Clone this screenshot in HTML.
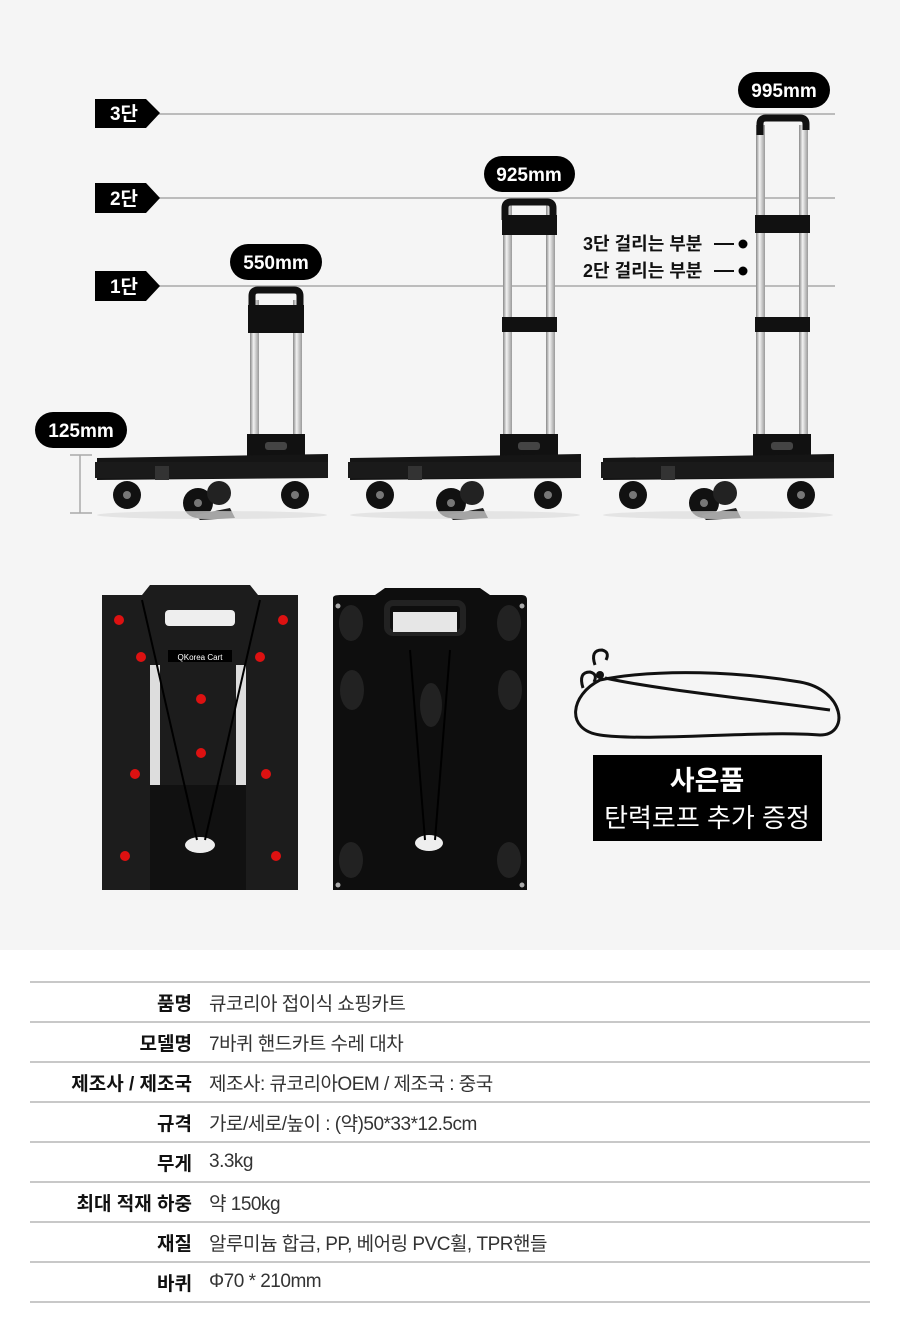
<!DOCTYPE html>
<html><head><meta charset="utf-8"><style>
body{margin:0;width:900px;height:1341px;background:#fff;font-family:"Liberation Sans","Noto Sans CJK KR",sans-serif;overflow:hidden}
.top{position:absolute;left:0;top:0;width:900px;height:950px;background:#f5f5f5}
svg text{font-family:"Liberation Sans","Noto Sans CJK KR",sans-serif}
.tbl{position:absolute;left:30px;top:981px;width:840px}
.row{height:38px;border-top:2px solid #c8c8c8;display:flex;align-items:center;font-size:19px;color:#333}
.row:last-child{border-bottom:2px solid #c8c8c8}
.k{width:162px;text-align:right;font-weight:bold;color:#111;padding-right:17px}
.v{letter-spacing:-0.5px}
</style></head><body>
<div class="top"></div>
<svg width="900" height="950" style="position:absolute;left:0;top:0">
<defs>
<linearGradient id="tube" x1="0" x2="1"><stop offset="0" stop-color="#888"/><stop offset=".4" stop-color="#f2f2f2"/><stop offset="1" stop-color="#999"/></linearGradient>
<g id="base">
<rect x="152" y="434" width="58" height="26" fill="#111"/>
<rect x="170" y="442" width="22" height="8" rx="3" fill="#444"/>
<path d="M2 458 L233 454 L233 478 L2 480 Z" fill="#151515"/>
<rect x="0" y="462" width="233" height="16" fill="#1a1a1a"/>
<rect x="60" y="466" width="14" height="14" fill="#333"/>
<circle cx="32" cy="495" r="14" fill="#111"/><circle cx="32" cy="495" r="4" fill="#777"/>
<circle cx="103" cy="503" r="15" fill="#111"/><circle cx="103" cy="503" r="4" fill="#777"/>
<circle cx="124" cy="493" r="12" fill="#222"/>
<path d="M100 515 L135 508 L140 518 L105 520Z" fill="#222"/>
<circle cx="200" cy="495" r="14" fill="#111"/><circle cx="200" cy="495" r="4" fill="#777"/>
<ellipse cx="117" cy="515" rx="115" ry="4" fill="#ddd" opacity=".7"/>
</g>
</defs>
<!-- lines -->
<g stroke="#aaa" stroke-width="1.5">
<line x1="155" y1="114" x2="835" y2="114"/>
<line x1="155" y1="198" x2="835" y2="198"/>
<line x1="155" y1="286" x2="835" y2="286"/>
</g>
<g fill="#000">
<path d="M95 99 H146 L160 113 L146 128 H95Z"/>
<path d="M95 183 H146 L160 198 L146 213 H95Z"/>
<path d="M95 271 H146 L160 286 L146 301 H95Z"/>
</g>
<g fill="#fff" font-weight="bold" font-size="19" text-anchor="middle">
<text x="124" y="120">3단</text><text x="124" y="205">2단</text><text x="124" y="293">1단</text>
</g>
<!-- pills -->
<rect x="230" y="244" width="92" height="36" rx="18"/>
<rect x="484" y="156" width="91" height="36" rx="18"/>
<rect x="738" y="72" width="92" height="36" rx="18"/>
<rect x="35" y="412" width="92" height="36" rx="18"/>
<g fill="#fff" font-weight="bold" font-size="19" text-anchor="middle">
<text x="276" y="269">550mm</text><text x="529" y="181">925mm</text><text x="784" y="97">995mm</text><text x="81" y="437">125mm</text>
</g>
<g stroke="#aaa" stroke-width="1.5"><line x1="80" y1="455" x2="80" y2="513"/><line x1="70" y1="455" x2="92" y2="455"/><line x1="70" y1="513" x2="92" y2="513"/></g>
<!-- cart1 -->
<g transform="translate(95,0)">
<rect x="155" y="300" width="9" height="136" fill="url(#tube)"/><rect x="198" y="300" width="9" height="136" fill="url(#tube)"/>
<path d="M157 306 V296 Q157 290 163 290 H199 Q205 290 205 296 V306" stroke="#111" stroke-width="7" fill="none"/>
<rect x="153" y="305" width="56" height="28" fill="#111"/>
<use href="#base"/>
</g>
<!-- cart2 -->
<g transform="translate(348,0)">
<rect x="155" y="205" width="9" height="231" fill="url(#tube)"/><rect x="198" y="205" width="9" height="231" fill="url(#tube)"/>
<path d="M157 220 V208 Q157 202 163 202 H199 Q205 202 205 208 V216" stroke="#111" stroke-width="7" fill="none"/>
<rect x="154" y="215" width="55" height="20" fill="#111"/>
<rect x="154" y="317" width="55" height="15" fill="#111"/>
<use href="#base"/>
</g>
<!-- cart3 -->
<g transform="translate(601,0)">
<rect x="155" y="125" width="9" height="311" fill="url(#tube)"/><rect x="198" y="125" width="9" height="311" fill="url(#tube)"/>
<path d="M159 135 V124 Q159 118 165 118 H199 Q205 118 205 124 V130" stroke="#111" stroke-width="7" fill="none"/>
<rect x="154" y="215" width="55" height="18" fill="#111"/>
<rect x="154" y="317" width="55" height="15" fill="#111"/>
<use href="#base"/>
</g>
<g font-weight="bold" font-size="18" fill="#111">
<text x="583" y="250">3단 걸리는 부분</text><text x="583" y="277">2단 걸리는 부분</text>
</g>
<g stroke="#111" stroke-width="2"><line x1="714" y1="244" x2="734" y2="244"/><line x1="714" y1="271" x2="734" y2="271"/></g>
<circle cx="743" cy="244" r="4.5"/><circle cx="743" cy="271" r="4.5"/>
<!-- folded cart left -->
<path d="M102 595 H142 L150 585 H250 L258 595 H298 V890 H102Z" fill="#1c1c1c"/>
<rect x="165" y="610" width="70" height="16" rx="4" fill="#eee"/>
<rect x="150" y="665" width="10" height="220" fill="#ddd"/><rect x="236" y="665" width="10" height="220" fill="#ddd"/>
<rect x="168" y="650" width="64" height="12" fill="#000"/>
<text x="200" y="660" fill="#fff" font-size="8" text-anchor="middle">QKorea Cart</text>
<rect x="150" y="785" width="96" height="105" fill="#111"/>
<ellipse cx="200" cy="845" rx="15" ry="8" fill="#eee"/>
<g stroke="#000" stroke-width="2"><line x1="142" y1="600" x2="197" y2="840"/><line x1="260" y1="600" x2="205" y2="840"/></g>
<g fill="#d11">
<circle cx="119" cy="620" r="5"/><circle cx="283" cy="620" r="5"/><circle cx="141" cy="657" r="5"/><circle cx="260" cy="657" r="5"/>
<circle cx="201" cy="699" r="5"/><circle cx="201" cy="753" r="5"/><circle cx="135" cy="774" r="5"/><circle cx="266" cy="774" r="5"/>
<circle cx="125" cy="856" r="5"/><circle cx="276" cy="856" r="5"/></g>
<!-- bottom view -->
<path d="M333 598 Q333 595 340 595 H375 L385 588 H480 L490 595 H522 Q527 595 527 600 V890 H333Z" fill="#0e0e0e"/>
<rect x="387" y="603" width="76" height="30" rx="6" fill="none" stroke="#222" stroke-width="6"/>
<rect x="393" y="612" width="64" height="20" fill="#e6e6e6"/>
<g fill="#222"><ellipse cx="351" cy="623" rx="12" ry="18"/><ellipse cx="509" cy="623" rx="12" ry="18"/>
<ellipse cx="352" cy="690" rx="12" ry="20"/><ellipse cx="510" cy="690" rx="12" ry="20"/><ellipse cx="431" cy="705" rx="11" ry="22"/>
<ellipse cx="351" cy="860" rx="12" ry="18"/><ellipse cx="509" cy="860" rx="12" ry="18"/></g>
<ellipse cx="429" cy="843" rx="14" ry="8" fill="#eee"/>
<g stroke="#000" stroke-width="2"><line x1="410" y1="650" x2="425" y2="840"/><line x1="450" y1="650" x2="435" y2="840"/></g>
<g fill="#aaa"><circle cx="338" cy="606" r="2.5"/><circle cx="522" cy="606" r="2.5"/><circle cx="338" cy="885" r="2.5"/><circle cx="522" cy="885" r="2.5"/></g>
<!-- rope -->
<path d="M600 680 C570 695 565 730 600 735 C650 742 760 730 820 735 C850 735 845 690 800 682 C740 672 660 668 600 680Z" fill="none" stroke="#111" stroke-width="3"/>
<path d="M605 678 C660 690 760 700 830 710" fill="none" stroke="#111" stroke-width="3"/>
<path d="M595 665 Q590 650 602 650 Q610 652 606 660" fill="none" stroke="#111" stroke-width="3"/>
<path d="M583 688 Q578 672 590 672 Q598 674 594 682" fill="none" stroke="#111" stroke-width="3"/>
<circle cx="600" cy="675" r="4" fill="#111"/>
<!-- gift -->
<rect x="593" y="755" width="229" height="86" fill="#000"/>
<text x="707" y="790" fill="#fff" font-size="27" font-weight="bold" text-anchor="middle">사은품</text>
<text x="707" y="827" fill="#fff" font-size="26" text-anchor="middle">탄력로프 추가 증정</text>
</svg>
<div class="tbl">
<div class="row"><div class="k">품명</div><div class="v">큐코리아 접이식 쇼핑카트</div></div>
<div class="row"><div class="k">모델명</div><div class="v">7바퀴 핸드카트 수레 대차</div></div>
<div class="row"><div class="k">제조사 / 제조국</div><div class="v">제조사: 큐코리아OEM / 제조국 : 중국</div></div>
<div class="row"><div class="k">규격</div><div class="v">가로/세로/높이 : (약)50*33*12.5cm</div></div>
<div class="row"><div class="k">무게</div><div class="v">3.3kg</div></div>
<div class="row"><div class="k">최대 적재 하중</div><div class="v">약 150kg</div></div>
<div class="row"><div class="k">재질</div><div class="v">알루미늄 합금, PP, 베어링 PVC휠, TPR핸들</div></div>
<div class="row"><div class="k">바퀴</div><div class="v">Φ70 * 210mm</div></div>
</div>
</body></html>
